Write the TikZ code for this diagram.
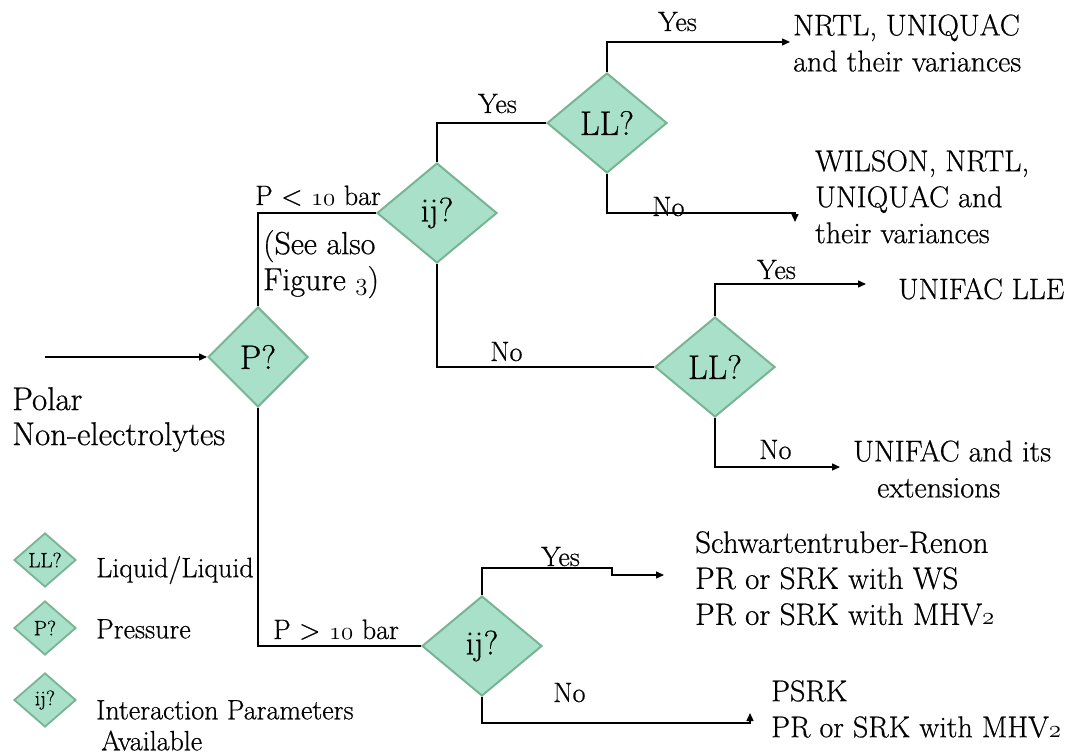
\documentclass[tikz,border=0pt]{standalone}
\usepackage{fontspec}
\setmainfont{Latin Modern Roman}[FakeBold=0.6]
\usetikzlibrary{shapes.geometric,arrows.meta}
\definecolor{dfill}{RGB}{168,224,202}
\definecolor{dline}{RGB}{120,180,148}
\newcommand\osn[1]{$\mathnormal{#1}$}
\tikzset{
  dec/.style={diamond, fill=dfill, draw=dline, line width=2pt, inner sep=0pt,
    minimum width=120pt, minimum height=100pt, font=\fontsize{34}{40}\selectfont},
  legdec/.style={diamond, fill=dfill, draw=dline, line width=1.8pt, inner sep=0pt,
    minimum width=62pt, minimum height=54pt, font=\fontsize{21}{24}\selectfont},
  conn/.style={line width=1.4pt, black},
  arr/.style={conn, -{Triangle[length=8pt,width=7pt]}},
  big/.style={inner sep=0pt, align=left, anchor=north west, font=\fontsize{30}{36}\selectfont},
  lab/.style={inner sep=0pt, anchor=base west, font=\fontsize{28}{32}\selectfont},
  leg/.style={inner sep=0pt, align=left, anchor=north west, font=\fontsize{28}{31}\selectfont},
}
\begin{document}
\begin{tikzpicture}[x=1pt,y=-1pt]
\useasboundingbox (0,0) rectangle (1067,754);
% decision diamonds
\node[dec, minimum width=100pt] (P) at (258,357) {P?};
\node[dec] (ij1) at (437,213) {ij?};
\node[dec] (LL1) at (607,123) {LL?};
\node[dec] (LL2) at (715,367) {LL?};
\node[dec] (ij2) at (482,646) {ij?};
% free ends
\coordinate (in) at (45,357);
\coordinate (e1) at (790,42);
\coordinate (e2) at (795,213);
\coordinate (e2b) at (795,222);
\coordinate (e3) at (866,284);
\coordinate (e4) at (840,467);
\coordinate (e5a) at (612,568);
\coordinate (e5b) at (612,575);
\coordinate (e5c) at (664,575);
\coordinate (e6) at (750,723);
\coordinate (e6b) at (750,713);
% connectors
\draw[arr] (in) -- (P.west);
\draw[conn] (P.north) |- (ij1.west);
\draw[conn] (P.south) |- (ij2.west);
\draw[conn] (ij1.north) |- (LL1.west);
\draw[conn] (ij1.south) |- (LL2.west);
\draw[arr] (LL1.north) |- (e1);
\draw[arr] (LL1.south) |- (e2) -- (e2b);
\draw[arr] (LL2.north) |- (e3);
\draw[arr] (LL2.south) |- (e4);
\draw[arr] (ij2.north) |- (e5a) -- (e5b) -- (e5c);
\draw[arr] (ij2.south) |- (e6) -- (e6b);
% branch labels
\node[lab] (lp1) at (255,205) {P \textless\ \osn{10} bar};
\node[lab] (lp2) at (273,639) {P \textgreater\ \osn{10} bar};
\node[lab] (y1) at (478,113) {Yes};
\node[lab] (y2) at (658,31) {Yes};
\node[lab] (n1) at (652,216) {No};
\node[lab] (n2) at (490,361) {No};
\node[lab] (y3) at (757,279) {Yes};
\node[lab] (n3) at (759,459) {No};
\node[lab] (y4) at (541,566) {Yes};
\node[lab] (n4) at (553,702) {No};
% texts
\node[big, font=\fontsize{33}{35}\selectfont] (src) at (12,387) {Polar\\Non-electrolytes};
\node[big, font=\fontsize{32}{36}\selectfont] (see) at (263,230) {(See also\\Figure \osn{3})};
\node[big] (r1) at (793,14) {NRTL, UNIQUAC\\and their variances};
\node[big] (r2) at (815,150) {WILSON, NRTL,\\UNIQUAC and\\their variances};
\node[big, font=\fontsize{29.5}{36}\selectfont] (r3) at (898,278) {UNIFAC LLE};
\node[big] (r4) at (853,440) {UNIFAC and its\\\hspace*{24pt}extensions};
\node[big, font=\fontsize{31}{36}\selectfont] (r5) at (695,531) {Schwartentruber-Renon\\PR or SRK with WS\\PR or SRK with MHV\osn{2}};
\node[big] (r6) at (771,680) {PSRK\\PR or SRK with MHV\osn{2}};
% legend
\node[legdec] (kLL) at (45,560) {LL?};
\node[legdec] (kP) at (45,628) {P?};
\node[legdec] (kij) at (45,700) {ij?};
\node[leg] (tLL) at (96,556) {Liquid/Liquid};
\node[leg] (tP) at (96,619) {Pressure};
\node[leg] (tij) at (96,700) {Interaction Parameters\\\hspace*{5pt}Available};
\end{tikzpicture}
\end{document}
